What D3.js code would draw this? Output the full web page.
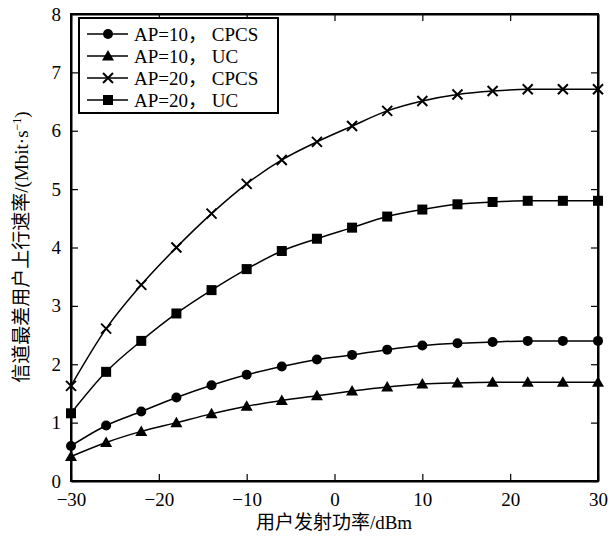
<!DOCTYPE html>
<html><head><meta charset="utf-8">
<script src="https://cdn.jsdelivr.net/npm/d3@7"></script>
<style>body{margin:0;background:#fff}svg{display:block}</style>
</head><body>
<svg id="c" width="616" height="536"></svg>
<script>
const xValues = [-30,-26,-22,-18,-14,-10,-6,-2,2,6,10,14,18,22,26,30];
const ap10cpcs = [0.60,0.95,1.19,1.43,1.64,1.82,1.96,2.08,2.16,2.25,2.32,2.36,2.38,2.40,2.40,2.40];
const ap10uc   = [0.42,0.66,0.85,1.00,1.15,1.28,1.38,1.46,1.54,1.61,1.66,1.68,1.69,1.69,1.69,1.69];
const ap20cpcs = [1.63,2.61,3.36,4.00,4.58,5.09,5.50,5.81,6.08,6.34,6.51,6.62,6.68,6.71,6.71,6.71];
const ap20uc   = [1.16,1.87,2.40,2.87,3.27,3.63,3.94,4.15,4.34,4.53,4.65,4.74,4.78,4.80,4.80,4.80];
const seriesNames = ["AP=10， CPCS","AP=10， UC","AP=20， CPCS","AP=20， UC"];
const seriesMarkers = ["circle","triangle","cross","square"];
const xTicks = [-30,-20,-10,0,10,20,30];
const yTicks = [0,1,2,3,4,5,6,7,8];
const series = [ap10cpcs, ap10uc, ap20cpcs, ap20uc];

const svg = d3.select("#c");
const L=71, R=598, T=14, B=481;
const x = d3.scaleLinear().domain([-30,30]).range([L,R]);
const y = d3.scaleLinear().domain([0,8]).range([B,T]);
const numFont = "'Liberation Serif','Times New Roman',serif";
const cjkFont = "'Liberation Serif','Noto Sans CJK SC',serif";

// frame
svg.append("rect").attr("x",L).attr("y",T).attr("width",R-L).attr("height",B-T)
  .attr("fill","none").attr("stroke","#000").attr("stroke-width",2);

// axes (inward ticks)
const gx = svg.append("g").attr("transform",`translate(0,${B})`)
  .call(d3.axisBottom(x).tickValues(xTicks).tickSizeInner(-7).tickSizeOuter(0).tickPadding(12)
  .tickFormat(d=>d<0?"\u2212"+Math.abs(d):d));
const gy = svg.append("g").attr("transform",`translate(${L},0)`)
  .call(d3.axisLeft(y).tickValues(yTicks).tickSizeInner(-7).tickSizeOuter(0).tickPadding(10));
const gt = svg.append("g").attr("transform",`translate(0,${T})`)
  .call(d3.axisTop(x).tickValues(xTicks).tickSizeInner(-7).tickSizeOuter(0).tickFormat(""));
const gr = svg.append("g").attr("transform",`translate(${R},0)`)
  .call(d3.axisRight(y).tickValues(yTicks).tickSizeInner(-7).tickSizeOuter(0).tickFormat(""));
[gx,gy,gt,gr].forEach(g=>{
  g.select(".domain").attr("stroke","#000").attr("stroke-width",2);
  g.selectAll(".tick line").attr("stroke","#000").attr("stroke-width",1.2);
  g.selectAll(".tick text").attr("fill","#000").style("font-family",numFont).style("font-size","19px");
});
gx.selectAll(".tick text").attr("dy","0.71em");

// lines
const line = d3.line().x((d,i)=>x(xValues[i])).y(d=>y(d)).curve(d3.curveMonotoneX);
series.forEach(s=>{
  svg.append("path").datum(s).attr("d",line).attr("fill","none")
    .attr("stroke","#000").attr("stroke-width",1.5);
});

function marker(g, type, cx, cy){
  if(type==="circle") g.append("circle").attr("cx",cx).attr("cy",cy).attr("r",5).attr("fill","#000");
  else if(type==="square") g.append("rect").attr("x",cx-5).attr("y",cy-5).attr("width",10).attr("height",10).attr("fill","#000");
  else if(type==="triangle") g.append("path").attr("d",`M${cx},${cy-6}L${cx+6},${cy+4.5}L${cx-6},${cy+4.5}Z`).attr("fill","#000");
  else if(type==="cross") g.append("path").attr("d",`M${cx-5},${cy-5}L${cx+5},${cy+5}M${cx-5},${cy+5}L${cx+5},${cy-5}`)
    .attr("stroke","#000").attr("stroke-width",2).attr("fill","none");
}
series.forEach((s,k)=>{
  const g = svg.append("g");
  s.forEach((v,i)=>marker(g, seriesMarkers[k], x(xValues[i]), y(v)));
});

// legend
const lg = svg.append("g");
lg.append("rect").attr("x",79).attr("y",18).attr("width",199).attr("height",95)
  .attr("fill","#fff").attr("stroke","#000").attr("stroke-width",2);
seriesNames.forEach((n,k)=>{
  const ry = 34 + k*22;
  lg.append("line").attr("x1",87).attr("x2",128).attr("y1",ry).attr("y2",ry).attr("stroke","#000").attr("stroke-width",1.5);
  marker(lg, seriesMarkers[k], 108, ry);
  lg.append("text").attr("x",134).attr("y",ry).attr("dy","0.35em").text(n)
    .style("font-family",cjkFont).style("font-size","19px").attr("fill","#000");
});

// axis labels
svg.append("text").attr("x",334).attr("y",529).attr("text-anchor","middle")
  .style("font-family",cjkFont).style("font-size","19px").text("用户发射功率/dBm");
svg.append("text").attr("transform",`translate(28,247) rotate(-90)`).attr("text-anchor","middle")
  .style("font-family",cjkFont).style("font-size","19px")
  .html('信道最差用户上行速率/(Mbit·s<tspan dy="-7" font-size="12">−1</tspan><tspan dy="7">)</tspan>');
</script>
</body></html>
